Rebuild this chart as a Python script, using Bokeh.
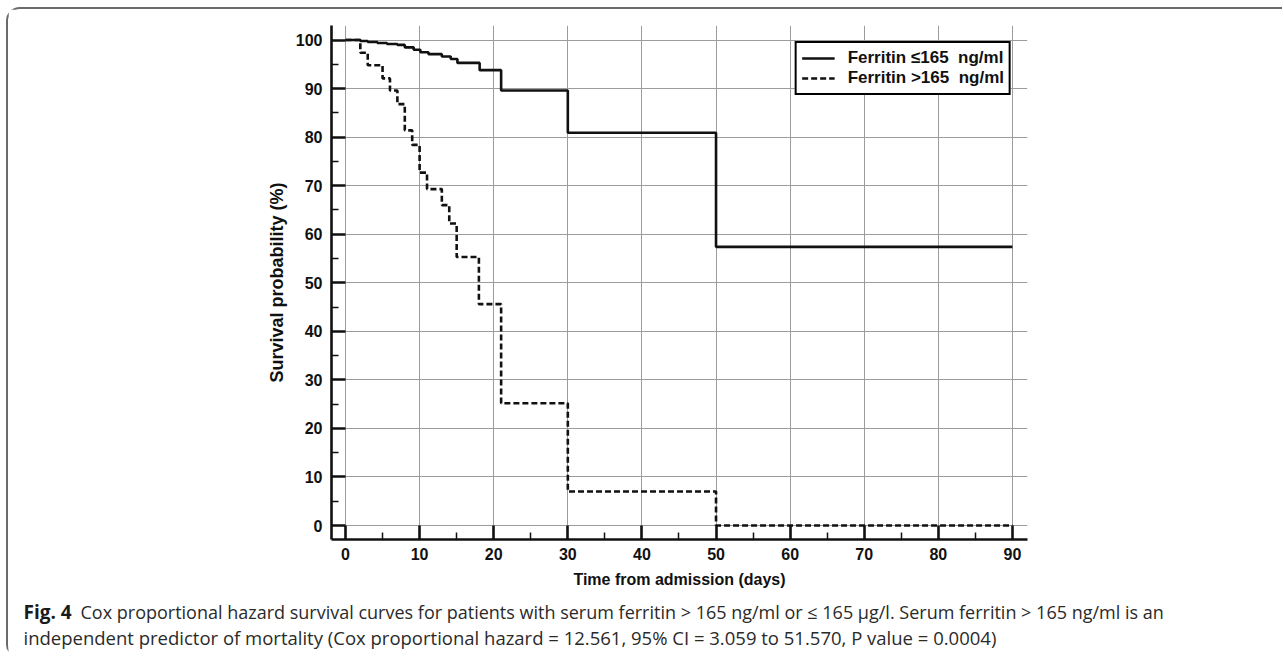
from bokeh.plotting import figure
from bokeh.layouts import column
from bokeh.models import Range1d, FixedTicker
from bokeh.core.properties import value
from bokeh.embed import file_html
from bokeh.resources import INLINE

# ---- data ----
low_label = "Ferritin \u2264165  ng/ml"
low_time = [0, 2, 3, 4.3, 5.6, 7, 8, 9.2, 10.1, 11.2, 13, 14.2, 15.1, 18.1, 21, 30, 50, 90]
low_surv = [100, 99.8, 99.6, 99.4, 99.2, 99.0, 98.5, 98.0, 97.5, 97.1, 96.6, 96.1, 95.3, 93.8, 89.6, 80.9, 57.4, 57.4]

high_label = "Ferritin >165  ng/ml"
high_time = [0, 2, 3, 5, 6, 7, 8, 9, 10, 11, 13, 14, 15, 18, 21, 30, 50, 90]
high_surv = [100, 97.4, 94.8, 92.1, 89.6, 86.8, 81.4, 78.4, 72.7, 69.3, 66.0, 62.2, 55.3, 45.6, 25.2, 7.0, 0.0, 0.0]

x_ticks = [0, 10, 20, 30, 40, 50, 60, 70, 80, 90]
y_ticks = [0, 10, 20, 30, 40, 50, 60, 70, 80, 90, 100]

x_title = "Time from admission (days)"
y_title = "Survival probability (%)"
cap_fig = "Fig. 4"
cap_line1 = ("Cox proportional hazard survival curves for patients with serum ferritin > 165 ng/ml "
             "or \u2264 165 \u00b5g/l. Serum ferritin > 165 ng/ml is an")
cap_line2 = ("independent predictor of mortality (Cox proportional hazard = 12.561, 95% CI = 3.059 "
             "to 51.570, P value = 0.0004)")

W = 1274
H_MAIN = 590
H_CAP = 56
INK = "#111111"

p = figure(width=W, height=H_MAIN,
           x_range=Range1d(-1.89, 92.03), y_range=Range1d(-2.88, 103.0),
           output_backend="svg", toolbar_location=None,
           min_border_left=323, min_border_right=W - 1019,
           min_border_top=16, min_border_bottom=H_MAIN - 530)

p.outline_line_color = None
p.background_fill_color = "white"
p.border_fill_color = "white"

p.step(low_time, low_surv, mode="after", line_width=2.6, line_color=INK,
       legend_label=low_label)
p.step(high_time, high_surv, mode="after", line_width=2.6, line_color=INK,
       line_dash="6 3", legend_label=high_label)

minor_x = [t + 5 for t in x_ticks[:-1]]
minor_y = [v + 5 for v in y_ticks[:-1]]
p.xaxis.ticker = FixedTicker(ticks=x_ticks, minor_ticks=minor_x)
p.yaxis.ticker = FixedTicker(ticks=y_ticks, minor_ticks=minor_y)

for ax in (p.xaxis, p.yaxis):
    ax.axis_line_width = 2.6
    ax.axis_line_color = INK
    ax.major_tick_in = 14
    ax.major_tick_out = 0
    ax.minor_tick_in = 7
    ax.minor_tick_out = 0
    ax.major_tick_line_width = 2.6
    ax.minor_tick_line_width = 1.5
    ax.major_tick_line_color = INK
    ax.minor_tick_line_color = INK
    ax.major_label_text_font = "Liberation Sans"
    ax.major_label_text_font_style = "bold"
    ax.major_label_text_font_size = "16px"
    ax.major_label_text_color = INK
    ax.axis_label_text_font = "Liberation Sans"
    ax.axis_label_text_font_style = "bold"
    ax.axis_label_text_color = INK

p.xaxis.axis_label = x_title
p.yaxis.axis_label = y_title
p.xaxis.axis_label_text_font_size = "16px"
p.yaxis.axis_label_text_font_size = "18px"
p.xaxis.major_label_standoff = 8
p.yaxis.major_label_standoff = 9
p.xaxis.axis_label_standoff = 8
p.yaxis.axis_label_standoff = 6

p.grid.grid_line_color = "#9c9c9c"
p.grid.grid_line_width = 1

lg = p.legend[0]
lg.location = "top_right"
lg.margin = 16
lg.border_line_color = "black"
lg.border_line_alpha = 1.0
lg.border_line_width = 2.2
lg.background_fill_alpha = 1
lg.label_text_font = "Liberation Sans"
lg.label_text_font_style = "bold"
lg.label_text_font_size = "17px"
lg.label_text_color = INK
lg.glyph_width = 33
lg.glyph_height = 18
lg.label_height = 18
lg.spacing = 0
lg.padding = 5
lg.label_standoff = 13

# ---- caption panel (pixel-scaled ranges so the text sits where the reference has it) ----
cap = figure(width=W, height=H_CAP, x_range=Range1d(0, W), y_range=Range1d(H_CAP, 0),
             output_backend="svg", toolbar_location=None,
             min_border=0, min_border_left=0, min_border_right=0,
             min_border_top=0, min_border_bottom=0)
cap.frame_align = False
cap.axis.visible = False
cap.grid.visible = False
cap.outline_line_color = None
cap.background_fill_color = "white"
cap.border_fill_color = "white"

cap.text(x=[15], y=[12], text=[cap_fig], text_font=value("Open Sans"),
         text_font_style="bold", text_font_size="19px", text_color="#1a1a1a",
         text_baseline="alphabetic")
cap.text(x=[72], y=[12], text=[cap_line1], text_font=value("Open Sans"),
         text_font_size="18px", text_color="#2a2a2a", text_baseline="alphabetic")
cap.text(x=[15], y=[38], text=[cap_line2], text_font=value("Open Sans"),
         text_font_size="18.5px", text_color="#2a2a2a", text_baseline="alphabetic")

layout = column(p, cap, spacing=0)
layout.styles = {"margin-left": "6px", "margin-top": "7px",
                 "border-top": "2px solid #6a6a6a", "border-left": "2px solid #6a6a6a",
                 "border-top-left-radius": "14px", "border-bottom-left-radius": "10px"}

open("out.html", "w").write(file_html(layout, INLINE))
